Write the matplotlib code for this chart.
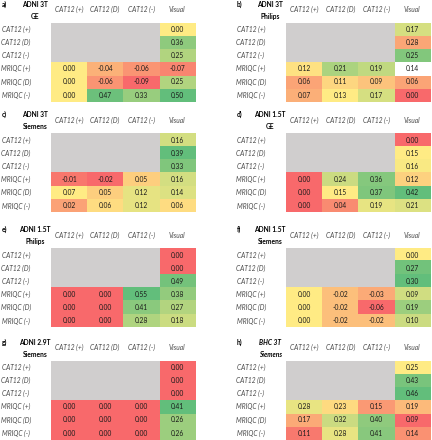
import numpy as np
import matplotlib
matplotlib.use("Agg")
from matplotlib import pyplot as plt
from matplotlib.colors import to_rgb

plt.rcParams['font.family'] = ['Lato', 'DejaVu Sans']

# Column / row labels
COLS = ["CAT12 (+)", "CAT12 (D)", "CAT12 (-)", "Visual"]
ROWS = ["CAT12 (+)", "CAT12 (D)", "CAT12 (-)", "MRIQC (+)", "MRIQC (D)", "MRIQC (-)"]

# Panel titles
LETTERS = ["a)", "b)", "c)", "d)", "e)", "f)", "g)", "h)"]
SITES = ["ADNI 3T", "ADNI 3T", "ADNI 3T", "ADNI 1.5T", "ADNI 1.5T", "ADNI 1.5T", "ADNI 2.9T", "BHC 3T"]
VENDORS = ["GE", "Philips", "Siemens", "GE", "Philips", "Siemens", "Siemens", "Siemens"]

# Visual column, all six rows
VISUAL_A = [0.00, 0.36, 0.25, -0.07, 0.25, 0.50]
VISUAL_B = [0.17, 0.28, 0.25, 0.14, 0.06, 0.00]
VISUAL_C = [0.16, 0.39, 0.33, 0.16, 0.14, 0.06]
VISUAL_D = [0.00, 0.15, 0.16, 0.12, 0.42, 0.21]
VISUAL_E = [0.00, 0.00, 0.49, 0.38, 0.27, 0.18]
VISUAL_F = [0.00, 0.27, 0.30, 0.09, 0.19, 0.10]
VISUAL_G = [0.00, 0.00, 0.00, 0.41, 0.26, 0.26]
VISUAL_H = [0.25, 0.43, 0.46, 0.19, 0.09, 0.14]

# MRIQC rows vs CAT12 columns
MRIQC_A = [[0.00, -0.04, -0.06], [0.00, -0.06, -0.09], [0.00, 0.47, 0.33]]
MRIQC_B = [[0.12, 0.21, 0.19], [0.06, 0.11, 0.09], [0.07, 0.13, 0.17]]
MRIQC_C = [[-0.01, -0.02, 0.05], [0.07, 0.05, 0.12], [0.02, 0.06, 0.12]]
MRIQC_D = [[0.00, 0.24, 0.36], [0.00, 0.15, 0.37], [0.00, 0.04, 0.19]]
MRIQC_E = [[0.00, 0.00, 0.55], [0.00, 0.00, 0.41], [0.00, 0.00, 0.28]]
MRIQC_F = [[0.00, -0.02, -0.03], [0.00, -0.02, -0.06], [0.00, -0.02, -0.02]]
MRIQC_G = [[0.00, 0.00, 0.00], [0.00, 0.00, 0.00], [0.00, 0.00, 0.00]]
MRIQC_H = [[0.28, 0.23, 0.15], [0.17, 0.32, 0.40], [0.11, 0.28, 0.41]]

VISUALS = [VISUAL_A, VISUAL_B, VISUAL_C, VISUAL_D, VISUAL_E, VISUAL_F, VISUAL_G, VISUAL_H]
MRIQCS = [MRIQC_A, MRIQC_B, MRIQC_C, MRIQC_D, MRIQC_E, MRIQC_F, MRIQC_G, MRIQC_H]

# Excel style 3 colour scale
RED = np.array(to_rgb("#F8696B"))
YELLOW = np.array(to_rgb("#FFEB84"))
GREEN = np.array(to_rgb("#63BE7B"))
GRAY = np.array(to_rgb("#D0CECE"))
# cells in panel b whose fill did not follow the scale
OVERRIDES = {1: {(1, 3): "#FAA676", (3, 3): "#FFFFFF"}}

# panel boxes in pixels: left, top of the cell grid
LEFTS = [51, 286]
TOPS = [22.7, 133.5, 248.5, 360.7]
GRID_W, GRID_H = 144.5, 79.0
W, H = 432, 440


def cell_color(v, lo, mid, hi):
	if v <= mid:
		if mid == lo:
			return RED
		t = (v - lo) / (mid - lo)
		return RED + (YELLOW - RED) * t
	t = (v - mid) / (hi - mid)
	return YELLOW + (GREEN - YELLOW) * t


def build(visual, mriqc):
	M = np.full((6, 4), np.nan)
	M[:, 3] = visual
	M[3:, :3] = mriqc
	return M


fig = plt.figure(figsize=(W / 100, H / 100), dpi=100)
fs = 4.8
lab_col = "#4a4a4a"

for k in range(8):
	left = LEFTS[k % 2]
	top = TOPS[k // 2]
	ax = fig.add_axes([left / W, 1 - (top + GRID_H) / H, GRID_W / W, GRID_H / H])
	M = build(VISUALS[k], MRIQCS[k])
	vals = M[~np.isnan(M)]
	lo, mid, hi = vals.min(), np.percentile(vals, 50), vals.max()
	img = np.zeros((6, 4, 3))
	for r in range(6):
		for c in range(4):
			if np.isnan(M[r, c]):
				img[r, c] = GRAY
			else:
				img[r, c] = cell_color(M[r, c], lo, mid, hi)
				if (r, c) in OVERRIDES.get(k, {}):
					img[r, c] = to_rgb(OVERRIDES[k][(r, c)])
				ax.text(c, r, "%.2f" % M[r, c], ha="center", va="center", fontsize=fs, color="#1a1a1a")
	ax.imshow(img, extent=(-0.5, 3.5, 5.5, -0.5), aspect="auto", interpolation="nearest")
	ax.set_xlim(-0.5, 3.5)
	ax.set_ylim(5.5, -0.5)
	ax.axis("off")

	# column headers
	for c, name in enumerate(COLS):
		ax.text(c, -1.5, name, ha="center", va="center", fontsize=fs, style="italic", color=lab_col, clip_on=False)
	# row labels
	for r, name in enumerate(ROWS):
		ax.text(-1.47, r, name, ha="center", va="center", fontsize=fs, style="italic", color=lab_col, clip_on=False)
	# title
	st = "italic" if k == 7 else "normal"
	ax.text(-1.86, -1.92, LETTERS[k], ha="left", va="center", fontsize=fs, weight="bold", clip_on=False)
	ax.text(-0.94, -1.92, SITES[k], ha="center", va="center", fontsize=fs, weight="bold", style=st, clip_on=False)
	ax.text(-0.94, -1.0, VENDORS[k], ha="center", va="center", fontsize=fs, weight="bold", style=st, clip_on=False)

fig.savefig("out.png", dpi=100, facecolor="white")
